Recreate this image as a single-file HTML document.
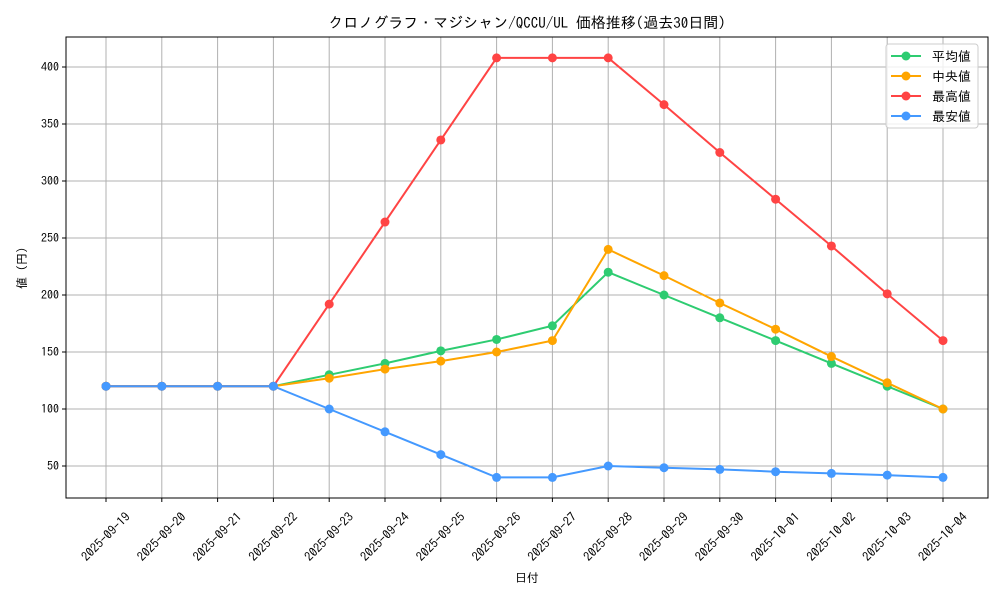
<!DOCTYPE html>
<html><head><meta charset="utf-8"><style>
body{margin:0;background:#fff}
svg text{font-family:"IPAGothic","Liberation Sans","Noto Sans CJK JP",sans-serif;fill:#000}
</style></head><body>
<svg id="chart" width="1000" height="600">
<rect width="1000" height="600" fill="#fff"/>
<text x="527" y="28" text-anchor="middle" font-size="15">クロノグラフ・マジシャン/QCCU/UL 価格推移(過去30日間)</text>
<g id="grid"></g><g id="axes"></g><g id="series"></g>
<rect x="66" y="37" width="922" height="461" fill="none" stroke="#000" stroke-width="1"/>
<text x="527" y="582" text-anchor="middle" font-size="12">日付</text>
<text transform="translate(26,268) rotate(-90)" text-anchor="middle" font-size="12">値 (円)</text>
<g id="legend"></g>
</svg>
<script>
const categories=["2025-09-19","2025-09-20","2025-09-21","2025-09-22","2025-09-23","2025-09-24","2025-09-25","2025-09-26","2025-09-27","2025-09-28","2025-09-29","2025-09-30","2025-10-01","2025-10-02","2025-10-03","2025-10-04"];
const avgValues=[120,120,120,120,130,140,151,161,173,220,200,180,160,140,120,100];
const medianValues=[120,120,120,120,127,135,142,150,160,240,217,193,170,146,123,100];
const maxValues=[120,120,120,120,192,264,336,408,408,408,367,325,284,243,201,160];
const minValues=[120,120,120,120,100,80,60,40,40,50,48.5,47,45,43.5,42,40];
const yTicks=[50,100,150,200,250,300,350,400];
const seriesNames=["平均値","中央値","最高値","最安値"];
const NS="http://www.w3.org/2000/svg";
function x(i){return 106+i*(943-106)/(categories.length-1);}
function y(v){return 466-(v-50)*(466-67)/350;}
function mk(tag,attrs,parent){const e=document.createElementNS(NS,tag);for(const k in attrs)e.setAttribute(k,attrs[k]);parent.appendChild(e);return e;}
const grid=document.getElementById('grid'),axes=document.getElementById('axes'),ser=document.getElementById('series'),leg=document.getElementById('legend');
categories.forEach((c,i)=>{
 const l=mk('line',{x1:x(i),x2:x(i),y1:37,y2:498,stroke:'#b0b0b0','stroke-width':1},grid);
 
 
 mk('line',{x1:x(i),x2:x(i),y1:498,y2:502,stroke:'#000'},axes);
 const cy=537;
 const t=mk('text',{x:x(i),y:cy+4,'font-size':12.5,'text-anchor':'middle',transform:`rotate(-45 ${x(i)} ${cy})`},axes);
 t.textContent=c;
 
 
});
yTicks.forEach(v=>{
 const l=mk('line',{x1:66,x2:988,y1:y(v),y2:y(v),stroke:'#b0b0b0','stroke-width':1},grid);
 
 
 mk('line',{x1:62,x2:66,y1:y(v),y2:y(v),stroke:'#000'},axes);
 const t=mk('text',{x:59,y:y(v)+4,'font-size':12,'text-anchor':'end'},axes);
 t.textContent=v;
 
 
});
const all=[[avgValues,'#2ecc71','avg'],[medianValues,'#ffa500','median'],[maxValues,'#ff4444','max'],[minValues,'#4499ff','min']];
all.forEach(([vals,col,nm])=>{
 const g=mk('g',{},ser);
 
 
 mk('polyline',{points:vals.map((v,i)=>x(i)+','+y(v)).join(' '),fill:'none',stroke:col,'stroke-width':2},g);
 vals.forEach((v,i)=>{const c=mk('circle',{cx:x(i),cy:y(v),r:4.5,fill:col},g);
  
  });
});
mk('rect',{x:886,y:44,width:92,height:84,rx:3,fill:'#fff','fill-opacity':0.8,stroke:'#ccc'},leg);
all.forEach(([v,col],k)=>{
 const yy=56+k*20;
 const g=mk('g',{},leg);
 
 
 mk('line',{x1:891,x2:921,y1:yy,y2:yy,stroke:col,'stroke-width':2},g);
 mk('circle',{cx:906,cy:yy,r:4.5,fill:col},g);
 const t=mk('text',{x:932,y:yy+5,'font-size':13},g);t.textContent=seriesNames[k];
});
</script>
</body></html>
